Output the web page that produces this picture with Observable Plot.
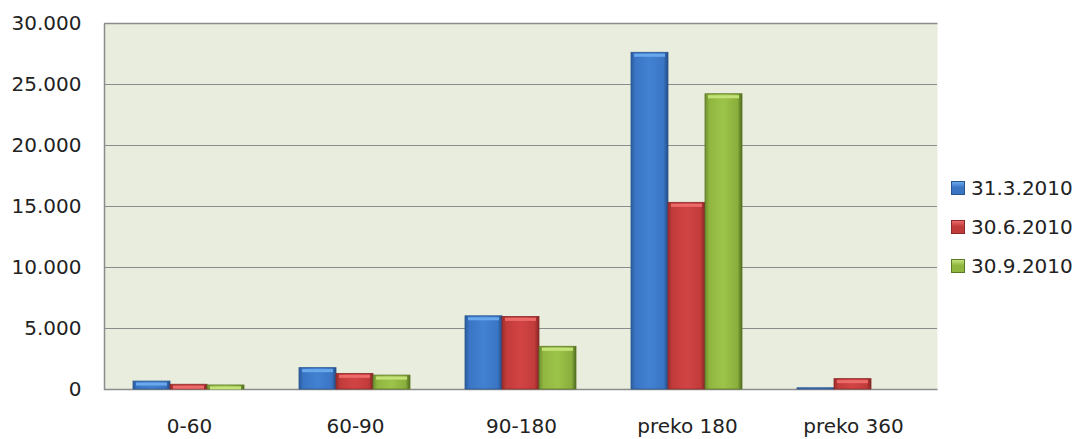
<!DOCTYPE html>
<html>
<head>
<meta charset="utf-8">
<script src="https://cdn.jsdelivr.net/npm/d3@7"></script>
<script src="https://cdn.jsdelivr.net/npm/@observablehq/plot@0.6"></script>
<style>
  body { margin: 0; background: #fff; font-family: "DejaVu Sans", sans-serif; }
  #wrap { position: relative; width: 1078px; height: 439px; }
  #bg, #fg { position: absolute; left: 0; top: 0; }
  #legend { position: absolute; left: 951px; top: 168px; font-size: 20px; color: #222; }
  .item { display: flex; align-items: center; height: 39px; }
  .sw { width: 14px; height: 14px; margin-right: 6px; box-sizing: border-box; }
</style>
</head>
<body>
<div id="wrap">
<svg width="0" height="0" style="position:absolute">
  <defs>
    <linearGradient id="gBlue" x1="0" x2="1" y1="0" y2="0">
      <stop offset="0" stop-color="#2c5c9e"/>
      <stop offset="0.12" stop-color="#3a75c4"/>
      <stop offset="0.5" stop-color="#4282d2"/>
      <stop offset="0.88" stop-color="#3a75c4"/>
      <stop offset="1" stop-color="#234c85"/>
    </linearGradient>
    <linearGradient id="gRed" x1="0" x2="1" y1="0" y2="0">
      <stop offset="0" stop-color="#9c2d2d"/>
      <stop offset="0.12" stop-color="#c23b3b"/>
      <stop offset="0.5" stop-color="#d24444"/>
      <stop offset="0.88" stop-color="#c23b3b"/>
      <stop offset="1" stop-color="#842525"/>
    </linearGradient>
    <linearGradient id="gGreen" x1="0" x2="1" y1="0" y2="0">
      <stop offset="0" stop-color="#6f8f30"/>
      <stop offset="0.12" stop-color="#90b640"/>
      <stop offset="0.5" stop-color="#9dc44a"/>
      <stop offset="0.88" stop-color="#8aae3c"/>
      <stop offset="1" stop-color="#4f6a1f"/>
    </linearGradient>
  </defs>
</svg>
<div id="bg"></div>
<div id="fg"></div>
<div id="legend"></div>
</div>
<script>
const categories = ["0-60", "60-90", "90-180", "preko 180", "preko 360"];
const seriesNames = ["31.3.2010", "30.6.2010", "30.9.2010"];
const s1 = [650, 1750, 6000, 27600, 100];
const s2 = [390, 1280, 5950, 15300, 850];
const s3 = [330, 1140, 3500, 24200, 0];
const yTicks = [0, 5000, 10000, 15000, 20000, 25000, 30000];
const yTickLabels = ["0", "5.000", "10.000", "15.000", "20.000", "25.000", "30.000"];

const seriesValues = [s1, s2, s3];
const fills = ["url(#gBlue)", "url(#gRed)", "url(#gGreen)"];
const strokes = ["#2a568f", "#8a2a2a", "#5a7825"];
const highlights = ["#6aa8ec", "#ec6a6a", "#c4e27a"];
const swatchColors = ["#3a75c4", "#c23b3b", "#90b640"];

const rows = [];
seriesNames.forEach((s, i) => categories.forEach((c, j) => rows.push({cat: c, series: s, value: seriesValues[i][j]})));

const W = 1078, H = 439, ML = 104, MR = 141, MT = 23, MB = 50;
const iw = W - ML - MR, ih = H - MT - MB;
const font = {fontFamily: "DejaVu Sans", fontSize: "20px", color: "#222", background: "transparent"};

// background: plot area, gridlines, y axis, category axis
const bg = Plot.plot({
  width: W, height: H,
  marginLeft: ML, marginRight: MR, marginTop: MT, marginBottom: MB,
  style: font,
  x: {type: "band", domain: categories, padding: 0, tickSize: 0, tickPadding: 29, label: null},
  y: {domain: [0, 30000], ticks: yTicks, tickFormat: (d) => yTickLabels[yTicks.indexOf(d)], tickSize: 0, tickPadding: 23, label: null},
  marks: [
    Plot.frame({fill: "#e9eddd", stroke: null}),
    Plot.ruleY(yTicks, {stroke: "#8c8c8c", strokeWidth: 1.2}),
    Plot.frame({fill: "none", stroke: "#8c8c8c", strokeWidth: 1.5,
                strokeDasharray: `${iw},${ih},${iw + ih},0`})
  ]
});
document.getElementById("bg").appendChild(bg);

// foreground: grouped bars
const fgMarks = [];
seriesNames.forEach((s, i) => {
  const data = rows.filter(d => d.series === s);
  fgMarks.push(Plot.barY(data, {
    fx: "cat", x: "series", y: "value",
    fill: fills[i], stroke: strokes[i], strokeWidth: 0.8
  }));
  fgMarks.push(Plot.tickY(data.filter(d => d.value > 300), {
    fx: "cat", x: "series", y: "value",
    stroke: highlights[i], strokeWidth: 3, dy: 2.5, inset: 3
  }));
});
const fg = Plot.plot({
  width: W, height: H,
  marginLeft: ML, marginRight: MR, marginTop: MT, marginBottom: MB,
  style: font,
  fx: {domain: categories, paddingInner: 0.334, paddingOuter: 0.167, axis: null, label: null},
  x: {domain: seriesNames, padding: 0, axis: null},
  y: {domain: [0, 30000], axis: null},
  marks: fgMarks
});
document.getElementById("fg").appendChild(fg);

const legend = document.getElementById("legend");
seriesNames.forEach((s, i) => {
  const item = document.createElement("div");
  item.className = "item";
  const sw = document.createElement("div");
  sw.className = "sw";
  sw.style.background = `linear-gradient(180deg, ${highlights[i]} 0%, ${swatchColors[i]} 45%, ${swatchColors[i]} 100%)`;
  sw.style.border = "1px solid " + strokes[i];
  const t = document.createElement("span");
  t.textContent = s;
  item.appendChild(sw); item.appendChild(t);
  legend.appendChild(item);
});
</script>
</body>
</html>
